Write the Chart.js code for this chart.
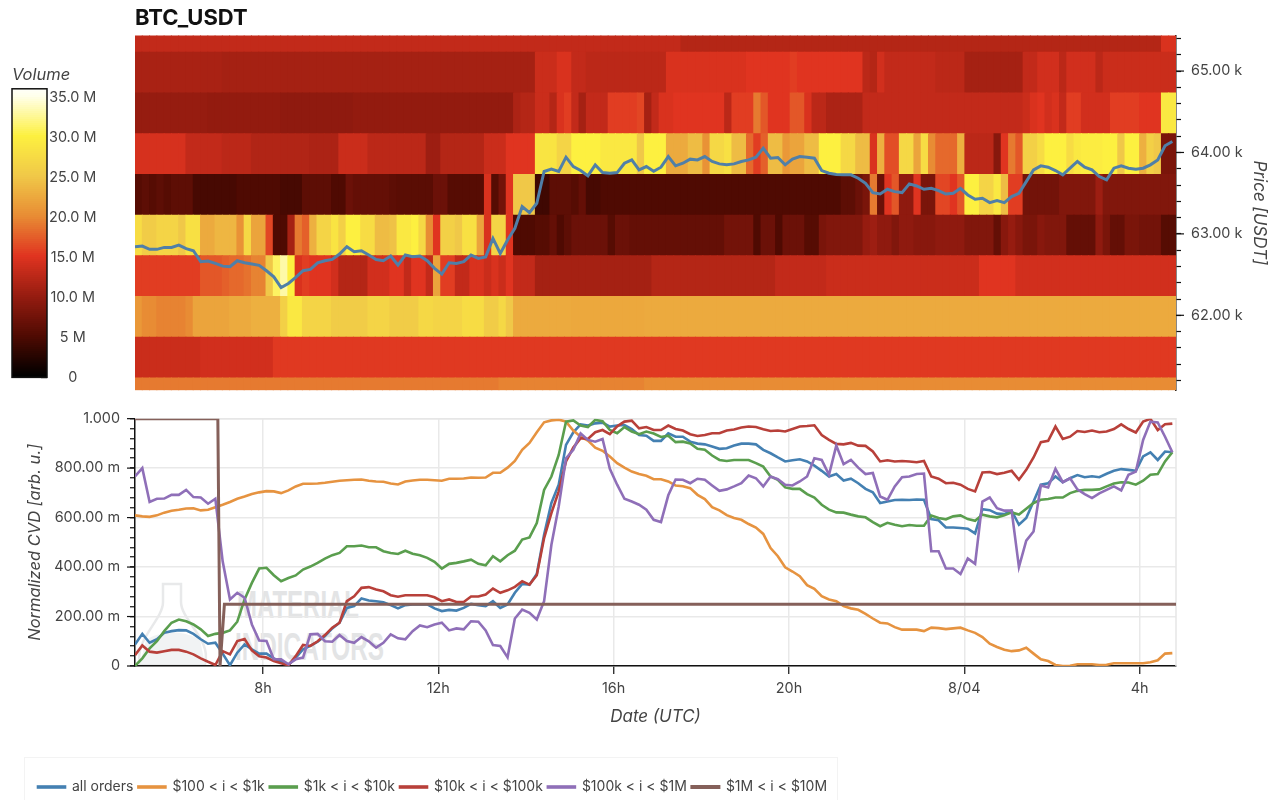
<!DOCTYPE html>
<html>
<head>
<meta charset="utf-8">
<style>
html,body{margin:0;padding:0;background:#fff;width:1275px;height:800px;overflow:hidden}
canvas{position:absolute}
#legendBox{position:absolute;left:24px;top:757px;width:814px;height:60px;border:1px solid #f3f3f3;box-sizing:border-box}
#mark{position:absolute;left:0;top:400px}
</style>
<script src="https://cdn.jsdelivr.net/npm/chart.js@4"></script>
</head>
<body>
<div id="legendBox"></div>
<svg id="mark" width="420" height="300" viewBox="0 400 420 300">
  <path d="M163 584 H181 V602 C181 620 212 640 205 664 H140 C134 640 163 620 163 602 Z" fill="none" stroke="#e8e9ea" stroke-width="2.5"/>
  <path d="M146 640 C160 630 185 630 200 640 L205 664 H140 Z" fill="#f1f3f4"/>
  <text x="237" y="618" font-family="Liberation Sans" font-weight="700" font-size="39" fill="#e3e4e5" textLength="122" lengthAdjust="spacingAndGlyphs">MATERIAL</text>
  <text x="235" y="660" font-family="Liberation Sans" font-weight="700" font-size="39" fill="#e3e4e5" textLength="149" lengthAdjust="spacingAndGlyphs">INDICATORS</text>
</svg>
<canvas id="bar" width="105" height="334" style="left:0;top:60px;width:105px;height:334px"></canvas>
<canvas id="heat" width="1275" height="409" style="left:0;top:0;width:1275px;height:409px"></canvas>
<canvas id="cvd" width="1275" height="400" style="left:0;top:400px;width:1275px;height:400px"></canvas>
<script>
// ---------- data ----------
const hours = Array.from({length:143},(_,i)=>5.08+i/6);
const xTickHours = [8,12,16,20,24,28];
const xTickLabels = ['8h','12h','16h','20h','8/04','4h'];
const priceEdges = [61078,61230,61730,62230,62730,63230,63730,64230,64730,65230,65438];
const priceTicks = [61200,61400,61600,61800,62000,62200,62400,62600,62800,63000,63200,63400,63600,63800,64000,64200,64400,64600,64800,65000,65200,65400];
const colorbarTicks = [0,5,10,15,20,25,30,35];

const heat0 = [19,19,19,19,19,19,19,19,19,19, 19,19,19,19,19,19,19,19,19,19, 19,19,19,19,19,19,19,19,19,19, 19,19,19,19,19,19,19,19,19,19,
 19,19,19,19,19,19,19,19,19,19, 19.5,19.5,19.5,19.5,19.5,19.5,19.5,19.5,19.5,19.5, 19.5,19.5,19.5,19.5,19.5,19.5,19.5,19.5,19.5,19.5,
 20,20,20,20,20,20,20,20,20,20, 20,20,20,20,20,20,20,20,20,20, 20,20,20,20,20,20,20,20,20,20, 20,20,20,20,20,20,20,20,20,20,
 20,20,20,20,20,20,20,20,20,20, 20,20,20,20,20,20,20,20,20,20, 20,20,20,20,20,20,20,20,20,20, 20,20,20];
const heat1 = [13.5,13.5,13.5,13.5,13.5,13.5,13.5,13.5,13.5,14, 14,14,14,14,14,14,14,14,14,15.3,
 15.3,15.3,15.3,15.3,15.3,15.3,15.3,15.3,15.3,15.3, 15.3,15.3,15.3,15.3,15.3,15.3,15.3,15.3,15.3,15.3,
 15.3,15.3,15.3,15.3,15.3,15.3,15.3,15.3,15.3,15.3, 15.3,15.3,15.3,15.3,15.3,15.3,15.3,15.3,15.3,15.3,
 15.3,15.3,15.3,15.3,15.3,15.3,15.3,15.3,15.3,15.3, 15.3,15.3,15.3,15.3,15.3,15.3,15.3,15.3,15.3,15.3,
 15.3,15.3,15.3,15.3,15.3,15.3,15.3,15.3,15.3,15.3, 15.3,15.3,15.3,15.3,15.3,15.3,15.3,15.3,15.3,15.3,
 15.3,15.3,15.3,15.3,15.3,15.3,15.3,15.3,15.3,15.3, 15.3,15.3,15.3,15.3,15.3,15.3,15.3,15.3,15.3,15.3,
 15.3,15.3,15.3,15.3,15.3,15.3,15.3,15.3,15.3,15.3, 15.3,15.3,15.3,15.3,15.3,15.3,15.3,15.3,15.3,15.3, 15.3,15.3,15.3];
const heat2 = [21,20,20,19.5,19.5,19.5,19.5,20,22,22, 22,22,22,22.5,22.5,22.5,23,23,23,23,
 26,29,29,26.5,26.5,26.5,26.5,25.5,25.5,25.5, 25.5,25.5,26.5,26.5,26.5,25.5,25.5,25.5,25.5,27,
 27,26.5,26.5,26.5,26.5,27.5,27.5,27.5,25.5,25.5, 27,25,22.5,22.5,22.5,22.5,22.5,22.5,22.5,22.5,
 22.3,22.3,22.3,22.3,22.3,22.3,22.3,22.3,22.3,22.3, 22.5,22.5,22.5,22.5,22.5,22.5,22.5,22.5,22.5,22.5,
 22.5,22.5,22.5,22.5,22.5,22.5,22.5,22.5,22.5,22.5, 22.5,22.5,22.5,22.5,22.5,22.5,22.5,22.5,22.5,22.5,
 22.5,22.5,22.5,22.5,22.5,22.5,22.5,22.5,22.5,22.5, 22.5,22.5,22.5,22.5,22.5,22.5,22.5,22.5,22.5,22.5,
 22.5,22.5,22.5,22.5,22.5,22.5,22.5,22.5,22.5,22.5, 22.5,22.5,22.5,22.5,22.5,22.5,22.5,22.5,22.5,22.5, 22.5,22.5,22.5];
const heat3 = [15.5,15.5,15.5,15.5,15.5,15.5,15.5,15.5,15.5,17, 17,17,17.5,18,18,18.5,19.5,19.5,25,31,
 33,30,14.5,15.5,15,15,15,14,12,12, 12,12,14,14,14,15,15,13,15,15,
 13,22,15.5,15.5,13,13,14.5,14.5,13.5,14.5, 13.5,15,13,13,13,11,11,11,11,11,
 11,11,11,11,11,11,11,11,11,11, 11,12,12,12,12,12,12,12,12,12,
 12,12,12,12,12,12,12,12,13,13, 13,13,13,13,13,13.5,13.5,13.5,13.5,13.5,
 13.5,13.5,13.5,13.5,13.5,13.5,13.5,13.5,13.5,13.5, 13.5,13.5,13.5,13.5,13.5,13.5,15,15,15,15,
 15,14,14,14,14,14,14,14,14,14, 14,14,14,14,14,14,14,14,14,14, 14,14,14];
const heat4 = [27.5,25.5,25.5,26.5,26.5,26.5,25,28,28,22.5, 22.5,23.5,23.5,23.5,20.5,27,22,22,16,5,
 5,11,19,17.5,23,26.5,26.5,28.5,26,30, 30,27.5,27.5,24,24,24.5,29,29,30,27,
 20,15,26,26,25,28,28,22,14.5,26.5, 26.5,15,5,5,5,5.5,5.5,6.5,5,6,
 7,7,7,7,7,5.5,7,7,6.5,6.5, 6.5,6.5,6.5,6.5,6.5,6.5,6.5,6.5,6.5,6.5,
 6.5,7.5,7.5,7.5,7.5,5,7,7,5,7, 7,7,5.5,5.5,8,8.5,8.5,8.5,8.5,8.5,
 10,10.5,9.5,9.5,8.5,9.5,9.5,9,9,9, 9.5,9.5,9.5,9.5,8.5,8.5,8.5,8.5,6.5,9,
 10,9,8,8,9,8.5,8.5,8.5,6.5,6.5, 6.5,6.5,9.5,8,6.5,6.5,8,8,7.5,7.5, 7.5,5.5,5.5];
const heat5 = [5.5,6,5.5,6,5.5,6,6,6,4.5,4.5, 4.5,4.5,4.5,4.5,5,5,5,5,5,5,
 4.5,4.5,4.5,6,6,6,6,5,5,7, 6.5,6.5,6.5,6.5,6.5,6,5.8,5.8,5.8,5.8,
 5.8,7,7,5.5,5.5,5.5,5.5,5.5,14.5,5.5, 7.5,15,25,25,25,4,4,6,6,6,
 5.5,6.5,4.5,4.5,5,5,5,5,5,5, 5,5,5,5,5,5,5,5,5,5,
 5,5,5,5,5,5,5,5,5,5, 5,5,5,5,5,5,5,6,6,7,
 8,19,7,15,17,9.5,9.5,15,8,8, 16,16,15,17,30,30,26.5,26.5,29,24,
 15.5,15.5,7.5,7.5,7.5,7.5,7.5,8.5,8.5,8.5, 8.5,8.5,10.5,8.5,8.5,8.5,8.5,8.5,8.5,8.5, 8.5,8.5,8.5];
const heat6 = [14.3,14.3,14.3,14.3,14.3,14.3,14.3,13,13,13, 13,13,12.5,12.5,12.5,12.5,11.8,11.8,11.8,11.8,
 11.8,11.8,11.8,11.8,11.5,11.5,11.5,11.5,13.5,13.5, 13.5,13.5,12.5,12.5,12.5,12.5,12.5,12.5,12.5,12.5,
 10.5,10.5,12,12,12,12,12,12,13.5,13.5, 13.5,15,15,15,15,28.5,28.5,28.5,26.5,26.5,
 30,30,30,30,29,29,29,29,29,25, 30,30,30,22.5,22.5,22.5,24,24,20.5,27,
 27,28,24,24,18,15.5,17.5,24,24,21, 22,22,24,24,30,30,30,27,27,24,
 24,14.5,23,16.5,16.5,27,27,22,27.5,20, 18,18,18,23,12.5,12.5,12.5,12.5,9,15,
 19,17,26,26,27.5,30,30,30,27.5,29, 29.5,29.5,29.5,30,30,25,30,30,23,26, 25,8,8];
const heat7 = [10,10,10,10,10,10,10,10,10,10, 9.8,9.8,9.8,9.8,9.8,9.8,9.8,9.8,9.8,9.8,
 9.5,9.5,9.5,9.5,9.5,9.5,9.5,9.5,9.5,9.5, 9.8,9.8,9.8,9.8,9.8,9.8,9.8,9.8,9.8,9.8,
 9.8,9.8,9.8,9.8,9.8,9.8,9.8,9.8,9.8,9.8, 9.8,9.8,11.5,12,12,13.5,13.5,12,14.5,15.5,
 13,11,13,13,13,15.5,15.5,15.5,15.5,16, 11,13,14.5,14.5,15,15,15,15,15,15,
 15,12.5,15.5,15.5,15.5,19,17,15,15,15, 17,17,14.5,12.5,12.5,11.5,11.5,11.5,11.5,11.5,
 13,13,13,13,13,13,13,13,13,13, 13,13,13,13,13,13,13,13,13,13,
 13,13,13.5,14.5,15,14,14.5,13,15.5,15.5, 14,14,14,14,15.5,15.5,15.5,15.5,15,15, 15,29,29];
const heat8 = [11.3,11.3,11.3,11.3,11.3,11.3,11.3,11.3,11.3,11.3, 11.3,11.3,11,11,11,11,11,11,11,11,
 11,11,11,11,11,11,11,11,11,11, 11,11,11,11,11,11,11,11,11,11,
 11,11,11,11,11,11,11,11,11,11, 11,11,11,11,11,13.5,13.5,13.5,14.5,14.5,
 13,13,12.5,12.5,12.5,12.5,12.5,12.5,12.5,12.5, 12.5,12.5,12.5,14.5,14.5,14.5,14.5,14.5,14.5,14.5,
 14.5,14.5,14.5,14.5,15,15,15,15,15,15, 15.5,15,15,15,15,15,15,15,15,15,
 12.5,12,14,13,13,13,13,13,13,13, 12.5,12.5,12.5,12.5,11,11,11,11,11,11,
 11,11,13,13,14,14,14,12.5,14,14, 14,14,12.5,13.5,13.5,13.5,13.5,13.5,13.5,13.5, 13.5,13.5,13.5];
const heat9 = [13,13,13,13,13,13,13,13,13,13, 13,13,13,13,13,13,13,13,13,13,
 13,13,13,13,13,13,13,13,13,13, 13,13,13,13,13,13,13,13,13,13,
 13,13,13,13,13,13,13,13,13,13, 13,13,13,13,13,13,13,13,13,13,
 13,13,13,13,13,13,13,13,13,13, 13,13,13,13,13,12,12,12,12,12,
 12,12,12,12,12,12,12,12,12,12, 12,12,12,12,12,12,12,12,12,12,
 12,12,12,12,12,12,12,12,12,12, 12,12,12,12,12,12,12,12,12,12,
 12,12,12,12,12,12,12,12,12,12, 12,12,12,12,12,12,12,12,12,12, 12,14.5,14.5];

const price = [62843,62851,62810,62810,62834,62834,62863,62818,62793,62658,
 62666,62637,62604,62596,62670,62645,62629,62613,62547,62473,
 62341,62391,62465,62547,62563,62645,62670,62686,62752,62843,
 62781,62793,62740,62686,62670,62728,62617,62740,62719,62728,
 62670,62576,62506,62645,62637,62658,62740,62699,62718,62944,
 62759,62924,63068,63335,63261,63376,63766,63795,63766,63942,
 63827,63778,63712,63848,63753,63745,63753,63868,63909,63786,
 63827,63770,63819,63950,63836,63868,63918,63909,63950,63889,
 63860,63848,63860,63889,63909,63942,64053,63930,63938,63848,
 63918,63950,63942,63930,63778,63745,63729,63725,63725,63684,
 63622,63507,63490,63548,63519,63507,63614,63589,63548,63560,
 63532,63490,63499,63560,63478,63425,63437,63384,63408,63384,
 63458,63499,63642,63786,63836,63819,63778,63725,63807,63889,
 63819,63786,63704,63663,63807,63836,63807,63795,63807,63848,
 63909,64082,64135];

const cvdAll = [.087,.13,.094,.108,.134,.141,.145,.144,.13,.108,
 .09,.094,.05,.003,.054,.087,.067,.05,.05,.031,
 .017,.004,.034,.067,.081,.098,.121,.152,.175,.235,
 .242,.273,.265,.262,.258,.246,.233,.246,.249,.249,
 .249,.233,.222,.227,.224,.235,.251,.246,.242,.262,
 .235,.249,.296,.332,.329,.372,.531,.659,.733,.894,
 .945,.977,.972,.981,.984,.968,.972,.974,.958,.934,
 .931,.91,.91,.941,.927,.927,.907,.899,.896,.887,
 .878,.88,.891,.899,.899,.896,.874,.86,.843,.827,
 .832,.836,.827,.81,.789,.766,.776,.75,.757,.739,
 .716,.702,.659,.665,.671,.672,.671,.673,.672,.594,
 .589,.56,.56,.558,.555,.536,.634,.63,.616,.614,
 .628,.571,.598,.665,.733,.739,.766,.743,.759,.772,
 .763,.767,.763,.777,.789,.796,.793,.789,.847,.864,
 .833,.867,.864];
const cvd100 = [.609,.605,.603,.609,.62,.628,.632,.637,.638,.629,
 .632,.642,.652,.663,.676,.685,.695,.702,.707,.706,
 .699,.71,.726,.737,.737,.738,.741,.745,.749,.751,
 .753,.754,.749,.746,.745,.738,.734,.746,.75,.753,
 .753,.751,.749,.757,.757,.758,.762,.761,.762,.781,
 .781,.802,.829,.874,.902,.945,.985,.993,.996,.988,
 .952,.927,.911,.883,.87,.847,.82,.802,.786,.776,
 .769,.755,.755,.746,.73,.727,.719,.692,.675,.642,
 .629,.61,.598,.591,.574,.56,.534,.477,.444,.399,
 .382,.363,.327,.312,.282,.269,.262,.242,.233,.227,
 .211,.192,.175,.172,.157,.147,.147,.147,.141,.155,
 .153,.149,.152,.155,.144,.134,.117,.09,.077,.066,
 .06,.063,.074,.05,.027,.02,.004,0,.001,.007,
 .007,.007,.004,.005,.011,.011,.011,.011,.011,.015,
 .023,.05,.052];
const cvd1k = [0,.031,.071,.10,.141,.175,.188,.181,.168,.148,
 .121,.13,.134,.144,.179,.269,.336,.394,.397,.367,
 .343,.356,.366,.39,.402,.417,.434,.448,.457,.484,
 .484,.487,.48,.48,.464,.457,.453,.466,.454,.448,
 .437,.421,.394,.413,.417,.423,.43,.413,.407,.444,
 .423,.448,.466,.511,.52,.578,.712,.766,.853,.988,
 .993,.972,.966,.995,.99,.954,.941,.966,.948,.937,
 .948,.94,.926,.931,.905,.907,.90,.878,.874,.851,
 .833,.829,.833,.833,.833,.82,.806,.766,.753,.722,
 .716,.716,.695,.681,.652,.632,.621,.62,.612,.605,
 .601,.582,.565,.579,.571,.565,.57,.567,.567,.608,
 .598,.593,.605,.609,.594,.587,.612,.605,.601,.609,
 .621,.612,.636,.659,.672,.675,.681,.681,.699,.708,
 .712,.712,.714,.726,.738,.743,.742,.733,.749,.773,
 .776,.827,.864];
const cvd10k = [.044,.083,.058,.054,.06,.065,.065,.058,.047,.031,
 .017,.004,.06,.047,.101,.109,.063,.039,.034,.02,
 .011,.003,.04,.085,.081,.10,.125,.155,.175,.262,
 .282,.316,.319,.309,.302,.286,.28,.286,.286,.286,
 .286,.278,.262,.269,.259,.259,.281,.281,.289,.313,
 .296,.306,.32,.343,.329,.367,.517,.618,.706,.827,
 .883,.921,.918,.945,.954,.937,.969,.988,.992,.961,
 .966,.954,.954,.972,.958,.952,.937,.93,.934,.941,
 .941,.952,.956,.964,.968,.966,.957,.95,.952,.948,
 .958,.968,.97,.973,.934,.914,.898,.896,.902,.891,
 .89,.867,.827,.832,.827,.829,.827,.824,.829,.766,
 .757,.739,.741,.733,.716,.706,.782,.784,.776,.781,
 .789,.753,.793,.843,.905,.91,.968,.918,.927,.95,
 .946,.952,.945,.948,.958,.977,.958,.944,.988,.999,
 .954,.977,.98];
const cvd100k = [.766,.80,.663,.676,.677,.692,.692,.712,.683,.681,
 .656,.676,.423,.269,.296,.276,.168,.103,.101,.027,
 .027,.007,.027,.034,.128,.13,.10,.098,.125,.101,
 .094,.117,.10,.074,.094,.128,.112,.108,.141,.164,
 .157,.168,.175,.144,.152,.148,.181,.179,.144,.085,
 .081,.035,.192,.228,.215,.188,.262,.49,.645,.84,
 .874,.94,.914,.907,.918,.797,.733,.676,.665,.652,
 .632,.591,.582,.69,.754,.753,.739,.757,.753,.73,
 .708,.714,.726,.739,.77,.759,.726,.766,.755,.733,
 .73,.746,.766,.84,.833,.773,.891,.816,.833,.802,
 .776,.78,.685,.672,.726,.763,.766,.776,.778,.464,
 .464,.394,.394,.372,.435,.413,.665,.681,.638,.628,
 .628,.40,.507,.544,.73,.722,.797,.743,.759,.714,
 .695,.679,.698,.712,.726,.71,.773,.786,.914,.988,
 .985,.927,.864];
const cvd1mHours = [5.08,6.97,7.02,7.12,28.83];
const cvd1m = [1,1,0,.25,.25];

const seriesNames = ['all orders','$100 < i < $1k','$1k < i < $10k','$10k < i < $100k','$100k < i < $1M','$1M < i < $10M'];

// ---------- styling ----------
const FONT = 'Inter';
const TXT = '#444444';
Chart.defaults.font.family = FONT;
Chart.defaults.animation = false;
Chart.defaults.responsive = false;
Chart.defaults.plugins.tooltip.enabled = false;

const colorStops = [[0,[0,0,0]],[5,[79,10,2]],[10,[150,28,16]],[15,[224,52,32]],[20,[232,140,52]],[25,[240,200,72]],[30,[253,240,64]],[35,[255,255,235]],[36.2,[255,255,255]]];
function heatColor(v){
  for(let k=1;k<colorStops.length;k++){
    if(v<=colorStops[k][0]){
      const [a,ca]=colorStops[k-1],[b,cb]=colorStops[k],t=(v-a)/(b-a);
      return `rgb(${ca.map((c,j)=>Math.round(c+(cb[j]-c)*t)).join(',')})`;
    }
  }
  return 'rgb(255,255,255)';
}
function majorTickPlugin(axisId,side,isMajor,len){
  return {id:'major'+axisId,afterDraw(chart){
    const s=chart.scales[axisId],c=chart.ctx;c.save();c.strokeStyle='#111';c.lineWidth=1.2;
    s.ticks.filter(t=>isMajor(t.value)).forEach(t=>{
      const y=s.getPixelForValue(t.value),x=side==='right'?chart.chartArea.right:chart.chartArea.left;
      c.beginPath();c.moveTo(x,y);c.lineTo(x+(side==='right'?len:-len),y);c.stroke();
    });
    c.restore();
  }};
}

// ---------- colour bar ----------
const barLevels=[];for(let v=0;v<36.1;v+=0.25)barLevels.push(v);
new Chart(document.getElementById('bar'),{
  type:'bar',
  data:{labels:['Volume'],datasets:barLevels.map(v=>({data:[[v,v+0.25]],backgroundColor:heatColor(v),grouped:false,barPercentage:1,categoryPercentage:1,inflateAmount:0.5}))},
  options:{
    layout:{padding:{left:12,bottom:9,top:0}},
    plugins:{legend:{display:false},
      title:{display:true,text:'Volume',align:'start',color:TXT,font:{size:16.5,style:'italic',weight:'normal'},padding:{top:5,bottom:4}}},
    scales:{
      x:{display:false},
      y:{position:'right',min:0,max:36.1,
        afterBuildTicks:s=>{s.ticks=colorbarTicks.map(v=>({value:v}));},
        afterFit:s=>{s.width=58;},
        grid:{drawOnChartArea:false,tickLength:-6,tickColor:'#555',tickWidth:1.5},
        border:{display:false},
        ticks:{color:TXT,font:{size:14.4},crossAlign:'center',padding:8,autoSkip:false,
          callback:v=>v===0?'0':(v===5?'5 M':v.toFixed(1)+' M')}}
    }
  },
  plugins:[{id:'frame',afterDraw(ch){const a=ch.chartArea,c=ch.ctx;c.save();c.strokeStyle='#111';c.lineWidth=1.5;c.strokeRect(a.left,a.top,a.right-a.left,a.bottom-a.top);c.restore();}}]
});

// ---------- heat map with price line ----------
const heatRows=[heat0,heat1,heat2,heat3,heat4,heat5,heat6,heat7,heat8,heat9];
const priceMajor=v=>v%1000===0;
new Chart(document.getElementById('heat'),{
  type:'bar',
  data:{
    labels:hours.map(h=>h.toFixed(2)),
    datasets:[
      {type:'line',label:'Price',data:price.map((y,k)=>({x:hours[k],y})),xAxisID:'xTime',borderColor:'#4f7fa8',borderWidth:3,pointRadius:0,tension:0,order:0,yAxisID:'y'},
      ...heatRows.map((vals,r)=>({type:'bar',data:vals.map(()=>[priceEdges[r],priceEdges[r+1]]),backgroundColor:vals.map(heatColor),grouped:false,barPercentage:1,categoryPercentage:1,inflateAmount:0.5,order:1,xAxisID:'x',yAxisID:'y'}))
    ]
  },
  options:{
    layout:{padding:{left:135,bottom:1}},
    plugins:{legend:{display:false},
      title:{display:true,text:'BTC_USDT',align:'start',color:'#111',font:{size:22,weight:'700'},padding:{top:5,bottom:4}}},
    scales:{
      x:{display:false},
      xTime:{type:'linear',display:false,offset:false,min:5.08,max:28.83},
      y:{position:'right',min:priceEdges[0],max:priceEdges[10],
        afterBuildTicks:s=>{s.ticks=priceTicks.map(v=>({value:v}));},
        afterFit:s=>{s.width=99;},
        grid:{drawOnChartArea:false,tickLength:5,tickColor:'#111',tickWidth:1.2},
        border:{display:true,color:'#111',width:1.5},
        title:{display:true,text:'Price [USDT]',color:TXT,font:{size:17,style:'italic'},padding:{top:6,bottom:0}},
        ticks:{autoSkip:false,maxRotation:0,color:TXT,font:{size:14.4},padding:10,
          callback:v=>priceMajor(v)?(v/1000).toFixed(2)+' k':''}}
    }
  },
  plugins:[majorTickPlugin('y','right',priceMajor,8)]
});

// ---------- normalized CVD lines ----------
const lineColors=['#4480b2','#e69340','#5a9e4e','#b8403a','#8f6fb8','#85605a'];
const cvdSeries=[cvdAll,cvd100,cvd1k,cvd10k,cvd100k];
const cvdMajor=v=>Math.round(v*1000)%200===0;
new Chart(document.getElementById('cvd'),{
  type:'line',
  data:{datasets:[
    ...cvdSeries.map((vals,i)=>({label:seriesNames[i],data:vals.map((y,k)=>({x:hours[k],y})),borderColor:lineColors[i],backgroundColor:lineColors[i],borderWidth:2.6,pointRadius:0,tension:0,order:6-i})),
    {label:seriesNames[5],data:cvd1m.map((y,k)=>({x:cvd1mHours[k],y})),borderColor:lineColors[5],backgroundColor:lineColors[5],borderWidth:3,pointRadius:0,tension:0,order:1}
  ]},
  options:{
    layout:{padding:{left:33,right:99,top:16,bottom:-4}},
    plugins:{
      title:{display:false},
      legend:{display:true,position:'bottom',align:'start',
        labels:{boxWidth:27,boxHeight:1,padding:5,color:TXT,font:{size:14},sort:(a,b)=>a.datasetIndex-b.datasetIndex}}
    },
    scales:{
      x:{type:'linear',min:5.08,max:28.83,
        afterBuildTicks:s=>{s.ticks=xTickHours.map(v=>({value:v}));},
        afterFit:s=>{s.height=109;},
        grid:{color:'#e9e9e9',lineWidth:1.5,tickColor:'#111',tickLength:8,tickWidth:1.2},
        border:{display:true,color:'#111',width:1.5},
        title:{display:true,text:'Date (UTC)',color:TXT,font:{size:17,style:'italic'},padding:{top:0,bottom:48}},
        ticks:{color:TXT,font:{size:14.4},padding:6,autoSkip:false,maxRotation:0,
          callback:v=>xTickLabels[xTickHours.indexOf(v)]}},
      y:{min:0,max:1,
        afterFit:s=>{s.width=102;},
        grid:{color:c=>cvdMajor(c.tick.value)?'#e9e9e9':'rgba(0,0,0,0)',lineWidth:1.5,tickColor:'#111',tickLength:5,tickWidth:1.2},
        border:{display:true,color:'#111',width:1.5},
        title:{display:true,text:'Normalized CVD [arb. u.]',color:TXT,font:{size:16.5,style:'italic'},padding:{top:-8,bottom:0}},
        ticks:{stepSize:.04,includeBounds:false,autoSkip:false,color:TXT,font:{size:14.4},padding:10,
          callback:v=>{const m=Math.round(v*1000);if(m%200!==0)return '';return m===0?'0':(m===1000?'1.000':m.toFixed(2)+' m');}}}
    }
  },
  plugins:[majorTickPlugin('y','left',cvdMajor,8),
    {id:'outline',beforeDatasetsDraw(ch){const a=ch.chartArea,c=ch.ctx;c.save();c.strokeStyle='#e6e6e6';c.lineWidth=1.5;c.beginPath();c.moveTo(a.left,a.top);c.lineTo(a.right,a.top);c.lineTo(a.right,a.bottom);c.stroke();c.restore();}}]
});
</script>
</body>
</html>
